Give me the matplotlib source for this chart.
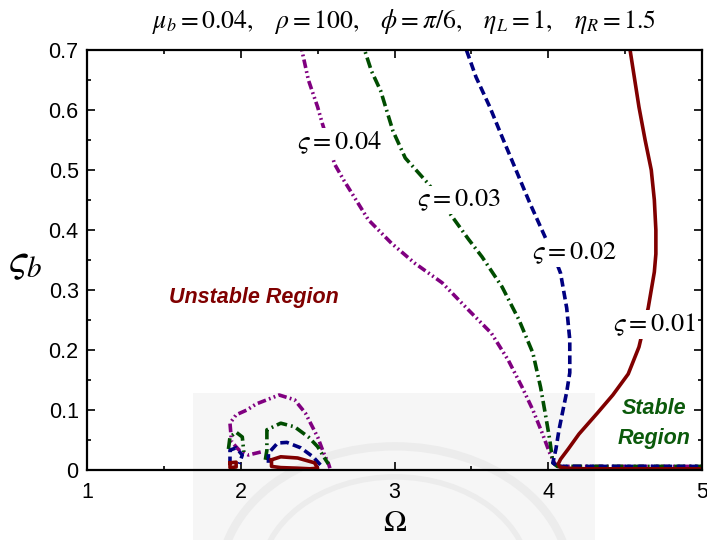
import matplotlib
matplotlib.use("Agg")
import matplotlib.pyplot as plt
from matplotlib.ticker import MultipleLocator, FuncFormatter
from matplotlib.patches import Rectangle, Circle

plt.rcParams['mathtext.fontset'] = 'stix'
plt.rcParams['font.family'] = ['Liberation Sans', 'DejaVu Sans']

# ---- stability boundaries (Omega, zeta_b) for each damping ratio ----
# zeta = 0.01
om01 = [4.52, 4.59, 4.63, 4.67, 4.69, 4.70, 4.70, 4.69, 4.65, 4.59, 4.52, 4.42,
        4.32, 4.20, 4.13, 4.08, 4.065, 4.075, 4.12, 4.25, 4.5, 4.75, 5.0]
z01 = [0.72, 0.605, 0.55, 0.50, 0.45, 0.40, 0.36, 0.33, 0.27, 0.205, 0.16, 0.125,
       0.095, 0.06, 0.035, 0.018, 0.01, 0.005, 0.003, 0.002, 0.002, 0.002, 0.002]
om01_lo = [2.20, 2.26, 2.37, 2.48, 2.50, 2.45, 2.37, 2.26, 2.20, 2.20]
z01_lo = [0.017, 0.022, 0.020, 0.012, 0.003, 0.002, 0.003, 0.004, 0.006, 0.017]
om01_sm = [1.93, 1.97, 1.97, 1.93, 1.93]
z01_sm = [0.012, 0.013, 0.005, 0.004, 0.012]

# zeta = 0.02
om02 = [3.44, 3.53, 3.62, 3.70, 3.79, 3.88, 3.98, 4.04, 4.08, 4.12, 4.14, 4.14,
        4.12, 4.10, 4.07, 4.05, 4.03, 4.06, 4.3, 4.6, 5.0]
z02 = [0.72, 0.655, 0.605, 0.555, 0.50, 0.445, 0.388, 0.355, 0.328, 0.27, 0.217, 0.162,
       0.13, 0.105, 0.067, 0.035, 0.012, 0.006, 0.006, 0.006, 0.006]
om02_lo = [2.18, 2.18, 2.24, 2.30, 2.39, 2.47, 2.52]
z02_lo = [0.012, 0.028, 0.045, 0.046, 0.037, 0.022, 0.008]
om02_sm = [1.93, 1.93, 1.97, 2.01, 1.99]
z02_sm = [0.008, 0.033, 0.037, 0.025, 0.010]

# zeta = 0.03
om03 = [2.78, 2.85, 2.91, 2.99, 3.07, 3.22, 3.39, 3.48, 3.57, 3.70, 3.81, 3.90,
        3.95, 3.98, 4.01, 4.03, 4.06, 4.3, 4.6, 5.0]
z03 = [0.72, 0.665, 0.632, 0.565, 0.52, 0.477, 0.417, 0.385, 0.355, 0.305, 0.25, 0.195,
       0.138, 0.095, 0.05, 0.012, 0.006, 0.006, 0.006, 0.006]
om03_lo = [2.16, 2.17, 2.17, 2.26, 2.35, 2.44, 2.50, 2.54, 2.57]
z03_lo = [0.017, 0.033, 0.067, 0.078, 0.072, 0.055, 0.039, 0.022, 0.010]
om03_sm = [1.92, 1.93, 1.97, 2.01, 2.02]
z03_sm = [0.035, 0.055, 0.063, 0.055, 0.030]

# zeta = 0.04
om04 = [2.38, 2.44, 2.50, 2.53, 2.57, 2.61, 2.67, 2.83, 2.98, 3.13, 3.31, 3.48,
        3.63, 3.74, 3.83, 3.90, 3.96, 4.01, 4.04, 4.06, 4.3, 4.6, 5.0]
z04 = [0.72, 0.65, 0.605, 0.578, 0.545, 0.51, 0.483, 0.417, 0.378, 0.345, 0.312, 0.267,
       0.228, 0.183, 0.138, 0.10, 0.062, 0.028, 0.012, 0.006, 0.006, 0.006, 0.006]
om04_lo = [2.13, 2.05, 1.99, 1.94, 1.93, 1.97, 2.04, 2.10, 2.17, 2.25, 2.35, 2.42,
           2.46, 2.50, 2.54, 2.57, 2.58]
z04_lo = [0.030, 0.025, 0.033, 0.047, 0.078, 0.092, 0.100, 0.110, 0.117, 0.125, 0.117, 0.095,
          0.075, 0.055, 0.028, 0.011, 0.003]

# labels
zeta_labels = [r'$\varsigma = 0.04$', r'$\varsigma = 0.03$', r'$\varsigma = 0.02$', r'$\varsigma = 0.01$']
label_om = [2.64, 3.42, 4.17, 4.69]
label_z = [0.545, 0.45, 0.362, 0.242]
x_ticks = [1, 2, 3, 4, 5]
y_ticks = [0, 0.1, 0.2, 0.3, 0.4, 0.5, 0.6, 0.7]

c_red = '#800000'
c_navy = '#000080'
c_green = '#004d00'
c_purple = '#800080'

fig = plt.figure(figsize=(7.07, 5.40), dpi=100)

# faint seal in the lower part of the page
seal_box = Rectangle((193 / 707, 0), (595 - 193) / 707, (540 - 393) / 540,
                     transform=fig.transFigure, facecolor='#f6f6f6',
                     edgecolor='none', zorder=0)
fig.patches.append(seal_box)
for r, w in [(175, 6), (135, 4)]:
    c = Circle((395 / 707, -40 / 540), r / 707, transform=fig.transFigure,
               facecolor='none', edgecolor='#ececec', lw=w, zorder=0.5)
    c.set_clip_path(seal_box)
    fig.patches.append(c)

ax = fig.add_axes([87 / 707, 1 - 470 / 540, (702 - 87) / 707, 420 / 540])
ax.set_zorder(2)
ax.patch.set_alpha(0)

lw = 2.6
ls_navy = (0, (2.4, 1.2))
ls_green = (0, (3.0, 1.1, 0.5, 1.1))
ls_purple = (0, (2.4, 0.9, 0.5, 0.9, 0.5, 0.9))

for xs, ys in [(om04, z04), (om04_lo, z04_lo)]:
    ax.plot(xs, ys, color=c_purple, lw=lw, ls=ls_purple)
for xs, ys in [(om03, z03), (om03_lo, z03_lo), (om03_sm, z03_sm)]:
    ax.plot(xs, ys, color=c_green, lw=lw, ls=ls_green)
for xs, ys in [(om02, z02), (om02_lo, z02_lo), (om02_sm, z02_sm)]:
    ax.plot(xs, ys, color=c_navy, lw=lw, ls=ls_navy)
for xs, ys in [(om01, z01), (om01_lo, z01_lo), (om01_sm, z01_sm)]:
    ax.plot(xs, ys, color=c_red, lw=lw, ls='-')

for txt, x, y in zip(zeta_labels, label_om, label_z):
    ax.text(x, y, txt, fontsize=19, ha='center', va='center', zorder=5,
            bbox=dict(facecolor='white', edgecolor='none', pad=1.0))

ax.text(2.085, 0.288, 'Unstable Region', color=c_red, fontsize=15.5,
        fontweight='bold', fontstyle='italic', ha='center', va='center')
ax.text(4.69, 0.077, 'Stable\nRegion', color='#0b5a0b', fontsize=15.5,
        fontweight='bold', fontstyle='italic', ha='center', va='center',
        linespacing=1.55)

ax.set_xlim(1, 5)
ax.set_ylim(0, 0.7)
ax.set_xticks(x_ticks)
ax.set_yticks(y_ticks)
ax.xaxis.set_minor_locator(MultipleLocator(0.5))
ax.yaxis.set_minor_locator(MultipleLocator(0.05))
ax.yaxis.set_major_formatter(FuncFormatter(lambda v, p: f'{v:g}'))
ax.tick_params(which='both', direction='in', top=True, right=True, width=1.2)
ax.tick_params(which='major', length=6, labelsize=15.5)
ax.tick_params(which='minor', length=3)
ax.tick_params(axis='x', pad=9)
ax.tick_params(axis='y', pad=6)
for s in ax.spines.values():
    s.set_linewidth(1.6)

ax.set_xlabel(r'$\Omega$', fontsize=22, labelpad=3)
ax.set_ylabel(r'$\varsigma_b$', fontsize=30, rotation=0, va='center')
ax.yaxis.set_label_coords(-0.1, 0.495)

fig.text(404 / 707, 1 - 22 / 540,
         r'$\mu_b=0.04,\ \ \ \rho=100,\ \ \ \phi=\pi/6,\ \ \ \eta_L=1,\ \ \ \eta_R=1.5$',
         fontsize=18.5, ha='center', va='center')

fig.savefig('out.png', dpi=100)
